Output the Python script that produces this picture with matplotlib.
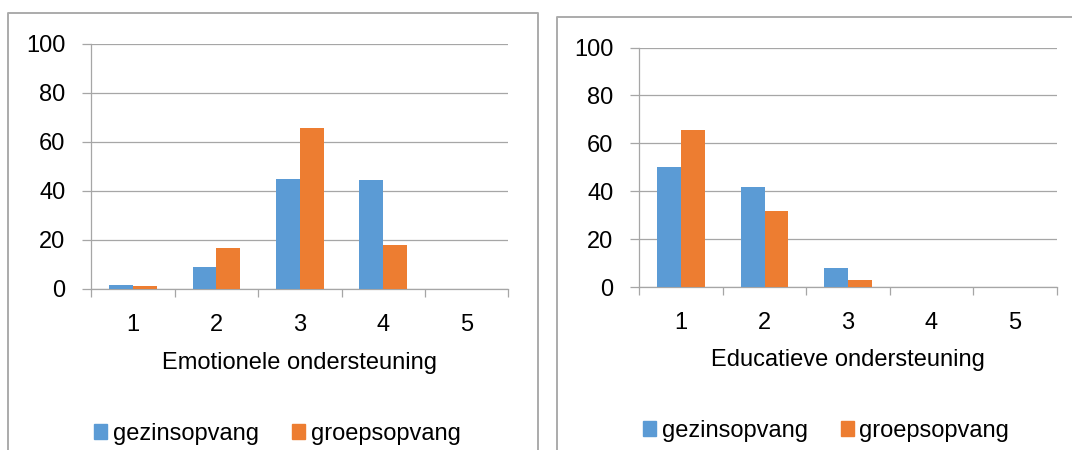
import numpy as np
import matplotlib.pyplot as plt
from matplotlib.patches import Patch
from matplotlib.lines import Line2D

plt.rcParams['font.family'] = ['Liberation Sans', 'DejaVu Sans']

categories = [1, 2, 3, 4, 5]
series_names = ['gezinsopvang', 'groepsopvang']

# Emotionele ondersteuning
emo_gezins = [1.3, 8.9, 44.8, 44.2, 0]
emo_groeps = [0.9, 16.6, 65.5, 17.7, 0]

# Educatieve ondersteuning
edu_gezins = [49.9, 41.9, 8.1, 0, 0]
edu_groeps = [65.4, 31.7, 3.0, 0, 0]

blue = '#5B9BD5'
orange = '#ED7D31'
grid_col = '#A6A6A6'
frame_col = '#ABABAB'

W, H = 1072, 450
fig = plt.figure(figsize=(W / 100, H / 100), dpi=100)


def px_axes(x0, x1, y_top, y_bot):
    return [x0 / W, 1 - y_bot / H, (x1 - x0) / W, (y_bot - y_top) / H]


def draw_chart(rect, gez, grp, xlabel, legend_x, legend_y):
    ax = fig.add_axes(rect)
    x = np.arange(len(categories)) + 1
    w = 1 / 3.5
    ax.bar(x - w / 2, gez, width=w, color=blue, zorder=3)
    ax.bar(x + w / 2, grp, width=w, color=orange, zorder=3)
    ax.set_xlim(0.5, 5.5)
    ax.set_ylim(0, 100)
    ax.set_yticks([0, 20, 40, 60, 80, 100])
    ax.yaxis.grid(True, color=grid_col, lw=0.9)
    ax.set_axisbelow(True)
    for s in ['top', 'right']:
        ax.spines[s].set_visible(False)
    for s in ['left', 'bottom']:
        ax.spines[s].set_color(grid_col)
        ax.spines[s].set_linewidth(0.9)
    # tick marks at category boundaries, labels at centres
    ax.set_xticks(np.arange(0.5, 6, 1))
    ax.set_xticklabels([])
    ax.set_xticks(x, minor=True)
    ax.set_xticklabels([str(c) for c in categories], minor=True)
    ax.tick_params(axis='x', which='major', length=6, width=0.9, color=grid_col)
    ax.tick_params(axis='x', which='minor', length=0, pad=18, labelsize=17)
    ax.tick_params(axis='y', length=6.2, width=0.9, color=grid_col, pad=12.5, labelsize=17)
    ax.set_xlabel(xlabel, fontsize=17)
    ax.xaxis.set_label_coords(0.5, -0.305)
    ax.xaxis.label.set_va('center')
    handles = [Patch(color=blue), Patch(color=orange)]
    ax.legend(handles, series_names, loc='center', ncol=2, frameon=False,
              bbox_to_anchor=(legend_x / W, 1 - legend_y / H), bbox_transform=fig.transFigure,
              fontsize=17, handlelength=0.55, handleheight=0.6, handletextpad=0.25,
              columnspacing=1.4)
    return ax


draw_chart(px_axes(91.3, 508.3, 44, 288.6), emo_gezins, emo_groeps,
           'Emotionele ondersteuning', 277.5, 434)
draw_chart(px_axes(639.4, 1056.5, 47.5, 287), edu_gezins, edu_groeps,
           'Educatieve ondersteuning', 826, 431)

# chart frames (bottom and right edges run off the picture)
def frame_line(xs, ys):
    fig.add_artist(Line2D([v / W for v in xs], [1 - v / H for v in ys],
                          color=frame_col, lw=1.4))

frame_line([8.3, 8.3, 537.5, 537.5], [452, 13.4, 13.4, 452])
frame_line([557, 557, 1075], [452, 17, 17])

fig.savefig('out.png', dpi=100)
